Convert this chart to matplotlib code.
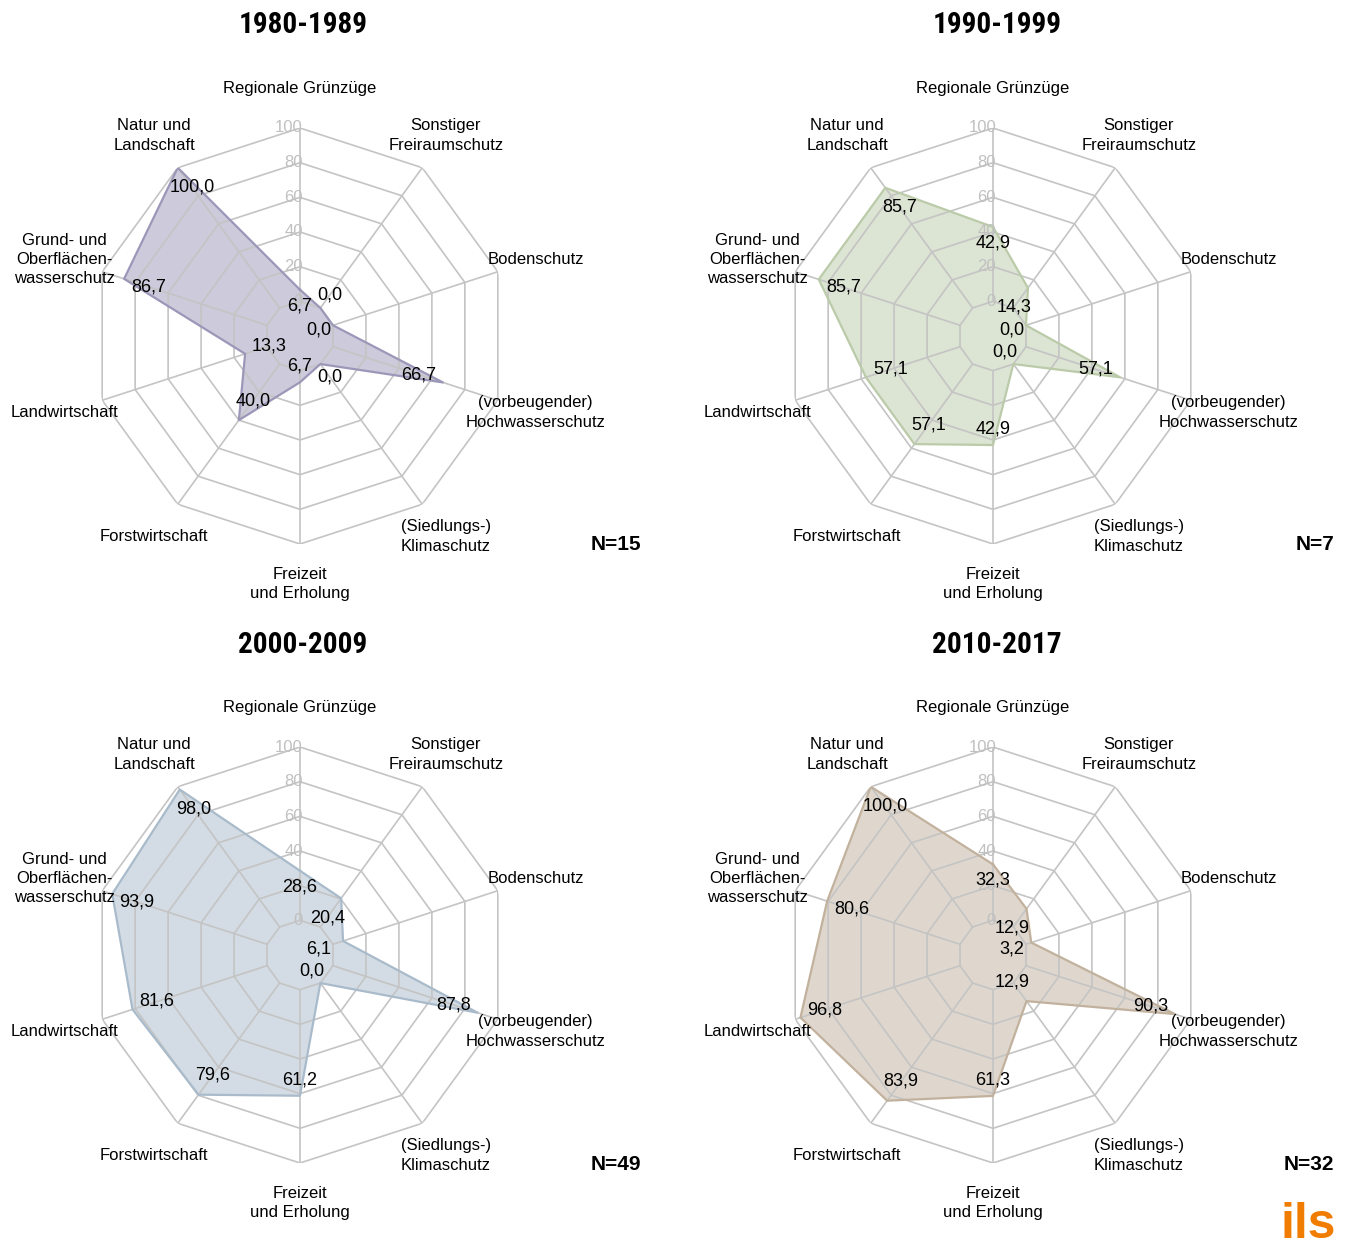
import numpy as np
import matplotlib
matplotlib.use("Agg")
import matplotlib.pyplot as plt
from matplotlib import font_manager

# ---------------- data ----------------
categories = [
    "Regionale Grünzüge",
    "Sonstiger\nFreiraumschutz",
    "Bodenschutz",
    "(vorbeugender)\nHochwasserschutz",
    "(Siedlungs-)\nKlimaschutz",
    "Freizeit\nund Erholung",
    "Forstwirtschaft",
    "Landwirtschaft",
    "Grund- und\nOberflächen-\nwasserschutz",
    "Natur und\nLandschaft",
]
periods = ["1980-1989", "1990-1999", "2000-2009", "2010-2017"]
n_counts = [15, 7, 49, 32]
values_1980 = [6.7, 0.0, 0.0, 66.7, 0.0, 6.7, 40.0, 13.3, 86.7, 100.0]
values_1990 = [42.9, 14.3, 0.0, 57.1, 0.0, 42.9, 57.1, 57.1, 85.7, 85.7]
values_2000 = [28.6, 20.4, 6.1, 87.8, 0.0, 61.2, 79.6, 81.6, 93.9, 98.0]
values_2010 = [32.3, 12.9, 3.2, 90.3, 12.9, 61.3, 83.9, 96.8, 80.6, 100.0]
radial_ticks = [0, 20, 40, 60, 80, 100]

# ---------------- styling ----------------
all_values = [values_1980, values_1990, values_2000, values_2010]
colors = ["#9b97b8", "#bbcba9", "#a9bbcb", "#c1b19d"]
outward_labels = {(0, 1), (0, 4)}

ttf = font_manager.fontManager.ttflist
available = {f.name for f in ttf}
regular = "Liberation Sans" if "Liberation Sans" in available else "DejaVu Sans"
plt.rcParams["font.family"] = [regular, "DejaVu Sans"]
title_candidates = ["Roboto Condensed", "Liberation Sans Narrow", "Archivo Narrow",
                    "Asap Condensed"]
title_font = next((c for c in title_candidates if c in available), regular)

W, H = 1349, 1249
fig = plt.figure(figsize=(W / 100, H / 100), dpi=100)
R = 208
centers = [(300, 336), (993, 336), (300, 955), (993, 955)]
title_pos = [(303, 25), (997, 25), (303, 645), (997, 645)]
n_pos = [(641, 544), (1334, 544), (641, 1164), (1334, 1164)]

theta = np.linspace(0, 2 * np.pi, len(categories), endpoint=False)
theta_closed = np.append(theta, theta[0])
grid_color = "#c4c4c4"
px_per_unit = R / 120.0
renderer = fig.canvas.get_renderer()

for k, (cx, cy) in enumerate(centers):
    ax = fig.add_axes([(cx - R) / W, (H - cy - R) / H, 2 * R / W, 2 * R / H],
                      projection="polar")
    ax.set_theta_zero_location("N")
    ax.set_theta_direction(-1)
    ax.set_ylim(-20, 100)
    ax.grid(False)
    ax.set_xticks([])
    ax.set_yticks([])
    ax.spines["polar"].set_visible(False)
    ax.patch.set_alpha(0)

    vals = all_values[k]
    vc = np.append(vals, vals[0])
    ax.fill(theta_closed, vc, color=colors[k], alpha=0.5, lw=0, zorder=1)
    ax.plot(theta_closed, vc, color=colors[k], lw=1.6, zorder=3)

    for r in radial_ticks:
        ax.plot(theta_closed, [r] * len(theta_closed), color=grid_color, lw=1.2, zorder=2)
    for t in theta:
        ax.plot([t, t], [0, 100], color=grid_color, lw=1.2, zorder=2)

    for r in radial_ticks:
        ax.annotate(str(r), xy=(0, r), xytext=(3, 0), textcoords="offset pixels",
                    ha="right", va="center", fontsize=12, color="#c0c0c0", zorder=4)

    for t, lab in zip(theta, categories):
        ax.text(t, 123, lab, ha="center", va="center", fontsize=12,
                linespacing=1.35, zorder=5)

    for i, (t, v) in enumerate(zip(theta, vals)):
        ux, uy = np.sin(t), np.cos(t)
        dist = (v + 20) * px_per_unit
        off = 8 + 16 * abs(ux) + 8 * abs(uy)
        if (k, i) in outward_labels:
            off = -16
        else:
            off = min(off, dist - 20)
        ax.annotate(f"{v:.1f}".replace(".", ","), xy=(t, v),
                    xytext=(-ux * off, -uy * off), textcoords="offset pixels",
                    ha="center", va="center", fontsize=13, zorder=6)

    tx, ty = title_pos[k]
    ttl = fig.text(tx / W, 1 - ty / H, periods[k], ha="center", va="center",
                   fontsize=24, fontweight="bold", family=[title_font, regular])
    w = ttl.get_window_extent(renderer).width
    ttl.set_fontsize(min(26, 24 * 130.0 / w))
    nx, ny = n_pos[k]
    fig.text(nx / W, 1 - ny / H, f"N={n_counts[k]}", ha="right", va="center",
             fontsize=15, fontweight="bold")

fig.text(1308 / W, 1 - 1225 / H, "ils", ha="center", va="center", fontsize=36,
         fontweight="bold", color="#f07d00")

fig.savefig("out.png", dpi=100, facecolor="white")
